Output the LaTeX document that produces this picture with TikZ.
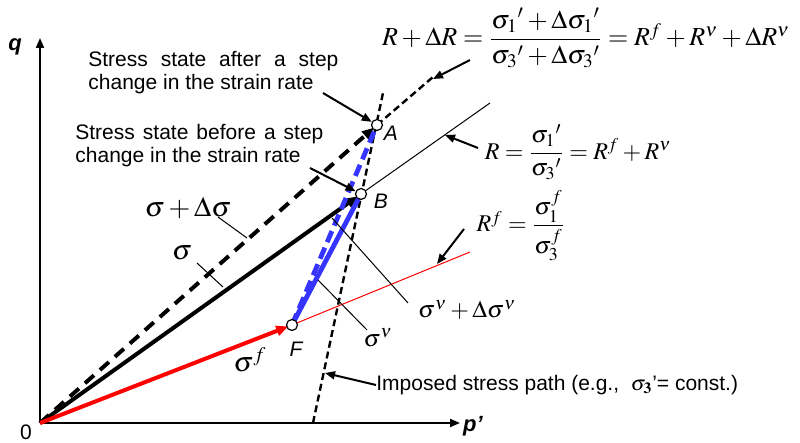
\documentclass[tikz,border=0pt]{standalone}
\usepackage{amsmath}
\usepackage{mathptmx}
\usepackage[no-math]{fontspec}
\setmainfont{Liberation Sans}
\usetikzlibrary{arrows.meta,positioning,calc}
\definecolor{inkred}{HTML}{FF0000}
\definecolor{inkblue}{HTML}{3535FF}
\tikzset{
  axis/.style={-{Triangle[length=5pt,width=4pt]}, line width=1pt},
  vec/.style={-{Triangle[length=6pt,width=5pt]}, line width=2pt, shorten >=2pt},
  dvec/.style={vec, dash pattern=on 6pt off 4pt},
  bluevec/.style={draw=inkblue, line width=2.4pt, shorten >=2pt},
  thinln/.style={line width=0.5pt},
  imposed/.style={line width=1.2pt, dash pattern=on 3.5pt off 2pt},
  callout/.style={-{Triangle[length=5pt,width=4pt]}, line width=1pt},
  leader/.style={line width=0.5pt},
  pt/.style={circle, draw, fill=white, line width=0.6pt, minimum size=5.5pt, inner sep=0pt},
  txt/.style={font=\fontsize{10.5}{11.5}\selectfont, align=left, inner sep=0pt},
  ptlbl/.style={font=\fontsize{10.5}{12}\selectfont\itshape, inner sep=0pt},
  axlbl/.style={font=\fontsize{11}{12}\selectfont\bfseries\itshape, inner sep=0pt},
  eq/.style={font=\fontsize{12}{14}\selectfont, inner sep=0pt},
  bigeq/.style={font=\fontsize{13}{15}\selectfont, inner sep=0pt},
  glbl/.style={font=\fontsize{14}{16}\selectfont, inner sep=0pt}
}
\begin{document}
\begin{tikzpicture}[x=0.5pt, y=-0.5pt]
 \useasboundingbox (0,0) rectangle (800,443);
 % stress points
 \coordinate (O) at (40,423);
 \coordinate (F) at (292,325);
 \coordinate (B) at (361,194);
 \coordinate (A) at (377,125);
 \coordinate (qtop) at (40,38);
 \coordinate (pend) at (460,423);
 \coordinate (isp0) at (313,423);
 \coordinate (isp1) at (383,93);
 \coordinate (Rend) at (490,103);
 \coordinate (Rdend) at (433,77);
 \coordinate (Rfend) at (470,252);

 % axes
 \draw[axis] (O) -- (qtop);
 \draw[axis] (O) -- (pend);
 \node[axlbl] (q) at (15,47) {q};
 \node[axlbl] (p) at (473,426) {p'};
 \node[txt] (zero) at (26,432) {0};

 % ratio lines and imposed path
 \draw[thinln] (B) -- (Rend);
 \draw[thinln, draw=inkred] (F) -- (Rfend);
 \draw[imposed] (isp0) -- (isp1);
 \draw[imposed] (A) -- (Rdend);

 % stress vectors
 \draw[dvec] (O) -- (A);
 \draw[vec] (O) -- (B);
 \draw[vec, draw=inkred, fill=inkred] (O) -- (F);
 \draw[bluevec] (F) -- (B);
 \draw[bluevec, dash pattern=on 6pt off 3pt] (F) -- (A);

 \node[pt] (nA) at (A) {};
 \node[pt] (nB) at (B) {};
 \node[pt] (nF) at (F) {};
 \node[ptlbl] (lA) at (391,133) {A};
 \node[ptlbl] (lB) at (381,201) {B};
 \node[ptlbl] (lF) at (296,349) {F};

 % text callouts
 \node[txt, anchor=west] (after) at (88,73) {\makebox[125pt][s]{Stress state after a step}\\change in the strain rate};
 \node[txt, anchor=west] (before) at (75,146) {\makebox[124pt][s]{Stress state before a step}\\change in the strain rate};
 \coordinate (cA) at (323,93);
 \coordinate (cB) at (310,168);
 \draw[callout] (cA) -- (nA);
 \draw[callout] (cB) -- (nB);

 \node[txt, anchor=west] (imp) at (376,385) {Imposed stress path (e.g.,\ \ $\sigma_{\mathbf{3}}$'= const.)};
 \coordinate (cI) at (325,373);
 \draw[callout] (imp.west) -- (cI);

 % ratio equations
 \node[bigeq] (eqRd) at (586,38) {$R+\Delta R=\dfrac{\sigma_1{}'+\Delta\sigma_1{}'}{\sigma_3{}'+\Delta\sigma_3{}'}=R^f+R^\nu+\Delta R^\nu$};
 \node[eq] (eqR) at (578,152) {$R=\dfrac{\sigma_1{}'}{\sigma_3{}'}=R^f+R^\nu$};
 \node[eq] (eqRf) at (521,226) {$R^f=\dfrac{\sigma_1^f}{\sigma_3^f}$};
 \coordinate (tRd) at (433,79);
 \coordinate (tR) at (445,135);
 \coordinate (tRf) at (437,264);
 \coordinate (sRd) at (470,60);
 \coordinate (sR) at (478,148);
 \coordinate (sRf) at (464,229);
 \draw[callout] (sRd) -- (tRd);
 \draw[callout] (sR) -- (tR);
 \draw[callout] (sRf) -- (tRf);

 % component labels
 \node[glbl] (gsd) at (188,208) {$\sigma+\Delta\sigma$};
 \node[glbl] (gs) at (182,253) {$\sigma$};
 \node[glbl] (gsf) at (250,360) {$\sigma^f$};
 \node[eq] (gsv) at (378,338) {$\sigma^\nu$};
 \node[eq] (gsvd) at (467,310) {$\sigma^\nu+\Delta\sigma^\nu$};
 \coordinate (k1a) at (218,217); \coordinate (k1b) at (247,238);
 \coordinate (k2a) at (197,263); \coordinate (k2b) at (223,287);
 \coordinate (k3a) at (332,218); \coordinate (k3b) at (408,303);
 \coordinate (k4a) at (318,280); \coordinate (k4b) at (367,330);
 \draw[leader] (k1a) -- (k1b);
 \draw[leader] (k2a) -- (k2b);
 \draw[leader] (k3a) -- (k3b);
 \draw[leader] (k4a) -- (k4b);
\end{tikzpicture}
\end{document}
